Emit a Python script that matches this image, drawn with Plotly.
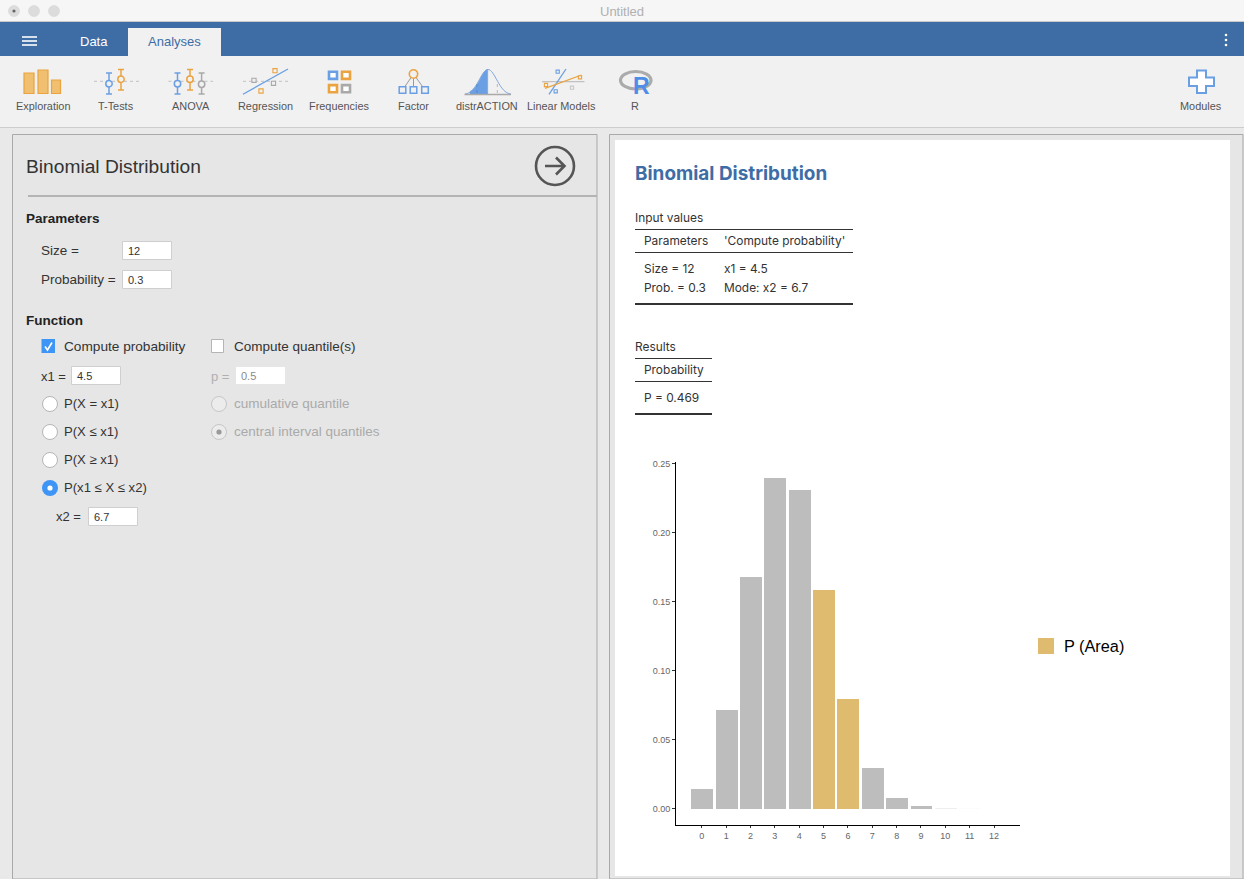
import plotly.graph_objects as go

# ---------- chart data ----------
outcomes = [0, 1, 2, 3, 4, 5, 6, 7, 8, 9, 10, 11, 12]
probabilities = [0.0138, 0.0712, 0.1678, 0.2397, 0.2311, 0.1585, 0.0792,
                 0.0291, 0.0078, 0.0015, 0.0002, 0.00001, 0.0]
area_outcomes = [5, 6]
y_ticks = [0.0, 0.05, 0.10, 0.15, 0.20, 0.25]
legend_label = "P (Area)"

# ---------- interface text ----------
tool_labels = ["Exploration", "T-Tests", "ANOVA", "Regression", "Frequencies",
               "Factor", "distrACTION", "Linear Models", "R", "Modules"]
tool_centres = [43, 116, 191, 265, 339, 413, 487, 561, 635, 1201]

W, H = 1244, 879
GREY, GOLD = "#bdbdbd", "#debb6f"
BLUE, ORANGE, ICON_GREY = "#6a9fe3", "#eaa33f", "#a9a9a9"
UI = "Liberation Sans"
RES = "Inter"

shapes, notes = [], []


def rect(x0, y0, x1, y1, fill="rgba(0,0,0,0)", line=None, lw=1):
    shapes.append(dict(type="rect", xref="x", yref="y", x0=x0, y0=y0, x1=x1, y1=y1,
                       fillcolor=fill, layer="below",
                       line=dict(color=line or "rgba(0,0,0,0)", width=lw if line else 0)))


def seg(x0, y0, x1, y1, color, lw=1, dash=None):
    shapes.append(dict(type="line", xref="x", yref="y", x0=x0, y0=y0, x1=x1, y1=y1,
                       layer="below", line=dict(color=color, width=lw, dash=dash or "solid")))


def circ(cx, cy, r, fill="rgba(0,0,0,0)", line=None, lw=1):
    shapes.append(dict(type="circle", xref="x", yref="y", x0=cx - r, y0=cy - r, x1=cx + r, y1=cy + r,
                       fillcolor=fill, layer="below",
                       line=dict(color=line or "rgba(0,0,0,0)", width=lw if line else 0)))


def path(d, fill="rgba(0,0,0,0)", line=None, lw=1):
    shapes.append(dict(type="path", xref="x", yref="y", path=d, fillcolor=fill, layer="below",
                       line=dict(color=line or "rgba(0,0,0,0)", width=lw if line else 0)))


def text(x, y, s, size=13.5, color="#333333", anchor="left", family=UI, bold=False):
    notes.append(dict(xref="x", yref="y", x=x, y=y, text=f"<b>{s}</b>" if bold else s,
                      showarrow=False, xanchor=anchor, yanchor="middle", align=anchor,
                      font=dict(size=size, color=color, family=family), borderpad=0, borderwidth=0))


# ---------- window chrome ----------
rect(0, 0, W, H, fill="#e9e9e9")
rect(0, 0, W, 22, fill="#f6f6f6")
seg(0, 21.5, W, 21.5, "#c8c8c8")
for cx in (14, 34, 54):
    circ(cx, 11, 5.5, fill="#dcdcdc", line="#d0d0d0", lw=0.5)
circ(14, 11, 1.6, fill="#666666")
text(622, 11.5, "Untitled", size=13, color="#b0b0b0", anchor="center")

rect(0, 22, W, 56, fill="#3e6da6")
rect(128, 28, 221, 56, fill="#f1f1f1")
for y in (37, 41, 45):
    seg(22, y, 37, y, "#ffffff", lw=1.6)
text(93.5, 41.5, "Data", size=13, color="#ffffff", anchor="center")
text(174.5, 41.5, "Analyses", size=13, color="#3e6da6", anchor="center")
for y in (35, 40, 45):
    circ(1226, y, 1.3, fill="#ffffff")

rect(0, 56, W, 127, fill="#f1f1f1")
seg(0, 127.5, W, 127.5, "#cdcdcd")
for cx, lab in zip(tool_centres, tool_labels):
    text(cx, 106, lab, size=10.9, color="#555555", anchor="center")

# Exploration icon
for x0, y0, x1 in ((24, 73, 34), (38, 70, 48), (51.5, 80, 60.5)):
    rect(x0, y0, x1, 93.5, fill="#f0bf70", line=ORANGE, lw=1.2)


def err_bar(x, y0, y1, yc, color):
    seg(x, y0, x, y1, color, lw=1.5)
    seg(x - 3, y0, x + 3, y0, color, lw=1.5)
    seg(x - 3, y1, x + 3, y1, color, lw=1.5)
    circ(x, yc, 3.2, fill="#f1f1f1", line=color, lw=1.5)


def sq(cx, cy, r, color, lw=1.1):
    rect(cx - r, cy - r, cx + r, cy + r, fill="#f1f1f1", line=color, lw=lw)


# T-Tests icon
seg(94, 81.3, 139, 81.3, "#b5b5b5", lw=0.8, dash="dot")
err_bar(109, 73, 94, 83.7, BLUE)
err_bar(121, 69.5, 90, 79.3, ORANGE)
# ANOVA icon
seg(168.5, 81.3, 213, 81.3, "#b5b5b5", lw=0.8, dash="dot")
err_bar(177.5, 73, 94, 83.7, BLUE)
err_bar(190, 69.5, 90, 79.3, ORANGE)
err_bar(201.6, 73, 94, 84.3, ICON_GREY)
# Regression icon
seg(243, 81.3, 288, 81.3, "#b5b5b5", lw=0.8, dash="dot")
seg(243, 94.3, 288, 69, BLUE, lw=1.3)
sq(275, 70.7, 2.1, ORANGE)
sq(254, 80.3, 2.1, ICON_GREY)
sq(273.5, 83.3, 2.1, ICON_GREY)
sq(261, 91, 2.1, ORANGE)
# Frequencies icon
for cx, cy, col in ((333, 75.3, BLUE), (346, 75.3, ORANGE), (333, 88.7, ORANGE), (346, 88.7, ICON_GREY)):
    rect(cx - 4, cy - 3.6, cx + 4, cy + 3.6, fill="#ffffff", line=col, lw=2.6)
# Factor icon
for cx in (402.5, 413.5, 425):
    seg(413.5, 74, cx, 90, "#8f8f8f", lw=0.9)
for cx in (402.5, 413.5, 425):
    sq(cx, 90, 3.3, BLUE, lw=1.5)
circ(413.5, 74, 4.2, fill="#f1f1f1", line=ORANGE, lw=1.6)
# distrACTION icon
path("M 470 91.5 C 479 88 482 69.5 487.7 69.5 L 487.7 94 L 470 94 Z", fill=BLUE, line=BLUE, lw=0.5)
path("M 465 94 C 477 93 481 69.5 488 69.5 C 495 69.5 499 93 511 94", line="#7fa8dc", lw=1)
seg(477, 84, 477, 94, "#4f7fbe", lw=0.7, dash="dot")
seg(497.3, 84, 497.3, 94, "#a0a0a0", lw=0.7, dash="dot")
seg(464.5, 94.5, 511, 94.5, "#a9a9a9", lw=1.4)
# Linear Models icon
seg(542, 81.7, 584.5, 81.7, "#b5b5b5", lw=1)
seg(566, 69, 549, 94.3, BLUE, lw=1.3)
seg(545, 88.3, 581.6, 75, ORANGE, lw=1.3)
sq(557.7, 71.7, 1.6, BLUE)
sq(580, 77.3, 1.6, ORANGE)
sq(546, 85, 1.6, ORANGE)
sq(555.7, 91.3, 1.6, BLUE)
sq(572, 87.7, 1.6, "#c8c8c8")
# R icon
shapes.append(dict(type="circle", xref="x", yref="y", x0=620.5, y0=71.5, x1=651, y1=89, layer="below",
                   fillcolor="rgba(0,0,0,0)", line=dict(color="#ababab", width=3.2)))
text(641.5, 85.5, "R", size=23, color="#4f8ee6", anchor="center", bold=True)
# Modules icon
path("M 1197 70.5 H 1206 V 77.5 H 1214 V 86 H 1206 V 93 H 1197 V 86 H 1189 V 77.5 H 1197 Z",
     fill="#ffffff", line=BLUE, lw=2)

# ---------- options panel ----------
rect(12.5, 134.5, 597, 879, fill="#e6e6e6", line="#a9a9a9")
seg(28, 196, 597, 196, "#b4b4b4", lw=2)
text(26, 166.5, "Binomial Distribution", size=19.2, color="#333333")
circ(555, 166, 19, line="#555555", lw=2.6)
path("M 545 166 H 564 M 556 157.5 L 564.5 166 L 556 174.5", line="#555555", lw=2.6)

text(26, 218.5, "Parameters", size=13.5, color="#222222", bold=True)
text(26, 320.5, "Function", size=13.5, color="#222222", bold=True)


def field(x0, y0, x1, y1, val, disabled=False):
    rect(x0, y0, x1, y1, fill="#ffffff", line=None if disabled else "#cfcfcf")
    text(x0 + 5, (y0 + y1) / 2 + 0.5, val, size=11, color="#8a8a8a" if disabled else "#333333")


def radio(cx, cy, on=False, disabled=False):
    if on and not disabled:
        circ(cx, cy, 8, fill="#3e95f5")
        circ(cx, cy, 2.6, fill="#ffffff")
    elif disabled:
        circ(cx, cy, 7.5, fill="#ececec", line="#c6c6c6")
        if on:
            circ(cx, cy, 2.6, fill="#9a9a9a")
    else:
        circ(cx, cy, 7.5, fill="#ffffff", line="#b5b5b5")


text(41, 250.5, "Size =")
field(122.5, 241.5, 171.5, 259.5, "12")
text(41, 279.5, "Probability =")
field(122.5, 270.5, 171.5, 288.5, "0.3")

rect(41.5, 339, 55, 353, fill="#3e95f5")
path("M 45 346.5 L 47.5 350 L 52 342.5", line="#ffffff", lw=1.6)
text(64, 346.5, "Compute probability", size=13.65)
rect(211.5, 339.5, 223.5, 352.5, fill="#ffffff", line="#b5b5b5")
text(233.5, 346.5, "Compute quantile(s)")

text(41, 376, "x1 =", size=13)
field(71.5, 366.5, 120.5, 384.5, "4.5")
text(211, 376, "p =", size=13, color="#b0b0b0")
field(236, 367, 285, 384, "0.5", disabled=True)

for cy, lab, on in ((404, "P(X = x1)", False), (432, "P(X ≤ x1)", False),
                    (460, "P(X ≥ x1)", False), (488, "P(x1 ≤ X ≤ x2)", True)):
    radio(50, cy, on=on)
    text(64, cy - 0.5, lab, size=13.1)
radio(219, 404, disabled=True)
text(233.5, 403.5, "cumulative quantile", color="#aaaaaa")
radio(219, 432, on=True, disabled=True)
text(233.5, 431.5, "central interval quantiles", color="#aaaaaa")

text(56, 516.5, "x2 =", size=13)
field(88.5, 507.5, 137.5, 525.5, "6.7")

# ---------- results panel ----------
rect(609.5, 134.5, 1243, 879, fill="#e6e6e6", line="#a9a9a9")
rect(615, 140, 1230, 876, fill="#ffffff")
text(635, 173, "Binomial Distribution", size=18.9, color="#3e6da6", family=RES, bold=True)

text(635, 217.5, "Input values", size=11.9, family=RES)
seg(635, 229.5, 853, 229.5, "#333333", lw=1)
text(643.5, 240.3, "Parameters", size=11.9, family=RES)
text(724, 240.3, "'Compute probability'", size=11.9, family=RES)
seg(635, 252.5, 853, 252.5, "#333333", lw=1)
text(643.5, 268.3, "Size = 12", size=11.9, family=RES)
text(724, 268.3, "x1 = 4.5", size=11.9, family=RES)
text(643.5, 287.3, "Prob. = 0.3", size=11.9, family=RES)
text(724, 287.3, "Mode: x2 = 6.7", size=11.9, family=RES)
seg(635, 304, 853, 304, "#333333", lw=2)

text(635, 346.5, "Results", size=11.9, family=RES)
seg(635, 358.5, 712, 358.5, "#333333", lw=1)
text(643.5, 369.3, "Probability", size=11.9, family=RES)
seg(635, 381.5, 712, 381.5, "#333333", lw=1)
text(643.5, 397.3, "P = 0.469", size=11.9, family=RES)
seg(635, 414, 712, 414, "#333333", lw=2)

# backing square that gives the legend key its full size
rect(1038, 638, 1054, 654, fill=GOLD)

# ---------- chart ----------
plain_x = [x for x in outcomes if x not in area_outcomes]
plain_y = [probabilities[outcomes.index(x)] for x in plain_x]
area_y = [probabilities[outcomes.index(x)] for x in area_outcomes]
# the two smallest bars are sub-pixel tall in the reference, so they only tint the row
plain_opacity = [0.25 if v < 0.001 and v > 0.0001 else 0.04 if v <= 0.0001 else 1 for v in plain_y]

fig = go.Figure()
fig.add_trace(go.Bar(x=plain_x, y=plain_y, width=0.9,
                     marker=dict(color=GREY, opacity=plain_opacity, line=dict(width=0)),
                     xaxis="x2", yaxis="y2", showlegend=False, hoverinfo="x+y"))
fig.add_trace(go.Bar(x=area_outcomes, y=area_y, width=0.9, marker=dict(color=GOLD, line=dict(width=0)),
                     xaxis="x2", yaxis="y2", name=legend_label, showlegend=True, hoverinfo="x+y"))

ax_left, ax_right, ax_top, ax_bottom = 675.5, 1020, 462, 824.5

fig.update_layout(
    width=W, height=H, margin=dict(l=0, r=0, t=0, b=0, pad=0, autoexpand=False),
    paper_bgcolor="#e9e9e9", plot_bgcolor="rgba(0,0,0,0)",
    barmode="overlay", bargap=0,
    font=dict(family=UI),
    xaxis=dict(range=[0, W], domain=[0, 1], visible=False, fixedrange=True),
    yaxis=dict(range=[H, 0], domain=[0, 1], visible=False, fixedrange=True),
    xaxis2=dict(domain=[ax_left / W, ax_right / W], anchor="y2", range=[-1.08, 13.066],
                tickmode="array", tickvals=outcomes, ticktext=[str(v) for v in outcomes],
                showgrid=False, zeroline=False, showline=True, linecolor="#000000", linewidth=1,
                ticks="outside", ticklen=2.5, tickwidth=1, tickcolor="#333333",
                tickfont=dict(size=9, color="#666666", family=UI), fixedrange=True),
    yaxis2=dict(domain=[1 - ax_bottom / H, 1 - ax_top / H], anchor="x2", range=[-0.0116, 0.2512],
                tickmode="array", tickvals=y_ticks, ticktext=[f"{v:.2f}" for v in y_ticks],
                showgrid=False, zeroline=False, showline=True, linecolor="#000000", linewidth=1,
                ticks="outside", ticklen=2.5, tickwidth=1, tickcolor="#333333",
                tickfont=dict(size=9, color="#666666", family=UI), fixedrange=True),
    legend=dict(x=1024 / W, y=1 - 646 / H, xanchor="left", yanchor="middle", bgcolor="rgba(0,0,0,0)",
                font=dict(size=16.3, color="#000000", family=UI), itemwidth=30),
    shapes=shapes, annotations=notes, showlegend=True,
)

fig.write_html("out.html", config=dict(displayModeBar=False),
               post_script="document.body.style.margin='0';document.body.style.overflow='hidden';")
